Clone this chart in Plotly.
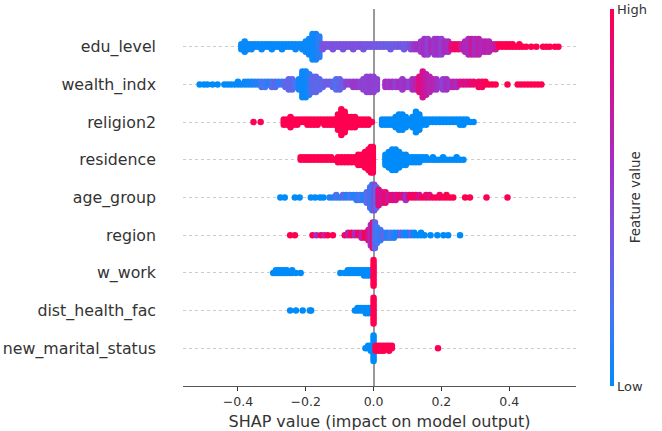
import math
import plotly.graph_objects as go

# Feature names, bottom row first
features = ["new_marital_status", "dist_health_fac", "w_work", "region", "age_group",
            "residence", "religion2", "wealth_indx", "edu_level"]

# ---- SHAP value bins (x), number of points per bin (n), feature value colour (c) ----
edu_x = [-0.39, -0.38, -0.37, -0.36, -0.35, -0.34, -0.33, -0.32, -0.31, -0.30,
         -0.29, -0.28, -0.27, -0.26, -0.25, -0.24, -0.23, -0.22, -0.21, -0.20,
         -0.19, -0.18, -0.17, -0.16, -0.15, -0.14, -0.13, -0.12, -0.11, -0.10,
         -0.09, -0.08, -0.07, -0.06, -0.05, -0.04, -0.03, -0.02, -0.01, 0.00,
         0.01, 0.02, 0.03, 0.04, 0.05, 0.06, 0.07, 0.08, 0.09, 0.10,
         0.11, 0.12, 0.13, 0.14, 0.15, 0.16, 0.17, 0.18, 0.19, 0.20,
         0.21, 0.22, 0.23, 0.24, 0.25, 0.26, 0.27, 0.28, 0.29, 0.30,
         0.31, 0.32, 0.33, 0.34, 0.35, 0.36, 0.37, 0.38, 0.39, 0.40,
         0.41, 0.42, 0.43, 0.44, 0.45, 0.465, 0.48, 0.50, 0.51, 0.52,
         0.535, 0.545]
edu_n = [3, 5, 3, 3, 2, 2, 3, 2, 2, 3,
         2, 2, 3, 2, 2, 2, 3, 2, 3, 5,
         7, 11, 11, 9, 3, 2, 2, 3, 2, 2,
         3, 2, 2, 3, 2, 2, 3, 2, 2, 2,
         2, 2, 2, 2, 3, 2, 2, 2, 3, 2,
         3, 3, 3, 5, 7, 7, 5, 7, 7, 7,
         5, 5, 3, 3, 3, 3, 5, 7, 7, 7,
         7, 5, 5, 5, 3, 3, 2, 2, 2, 2,
         2, 1, 2, 1, 1, 1, 1, 1, 1, 1,
         1, 1]
edu_c = [0.02, 0.02, 0.02, 0.02, 0.02, 0.02, 0.02, 0.02, 0.02, 0.02,
         0.02, 0.02, 0.02, 0.02, 0.02, 0.02, 0.03, 0.03, 0.03, 0.03,
         0.03, 0.03, 0.05, 0.12, 0.40, 0.42, 0.40, 0.42, 0.40, 0.42,
         0.40, 0.42, 0.40, 0.42, 0.40, 0.42, 0.40, 0.38, 0.40, 0.38,
         0.38, 0.36, 0.38, 0.35, 0.36, 0.35, 0.36, 0.38, 0.36, 0.38,
         0.45, 0.55, 0.60, 0.55, 0.60, 0.50, 0.62, 0.55, 0.60, 0.50,
         0.62, 0.60, 0.85, 0.95, 0.95, 0.70, 0.65, 0.62, 0.75, 0.60,
         0.70, 0.62, 0.72, 0.65, 0.70, 0.75, 1, 1, 1, 1,
         1, 1, 1, 1, 1, 1, 1, 1, 1, 1,
         1, 1]

wealth_x = [-0.513, -0.50, -0.49, -0.475, -0.46, -0.44, -0.43, -0.42, -0.41, -0.40,
            -0.39, -0.38, -0.37, -0.36, -0.35, -0.34, -0.33, -0.32, -0.31, -0.30,
            -0.29, -0.28, -0.27, -0.26, -0.25, -0.24, -0.23, -0.22, -0.21, -0.20,
            -0.19, -0.18, -0.17, -0.16, -0.15, -0.14, -0.13, -0.12, -0.11, -0.10,
            -0.09, -0.08, -0.07, -0.06, -0.05, -0.04, -0.03, -0.02, -0.01, 0.00,
            0.01, 0.035, 0.045, 0.055, 0.065, 0.075, 0.085, 0.095, 0.105, 0.115,
            0.125, 0.135, 0.145, 0.155, 0.165, 0.175, 0.185, 0.195, 0.205, 0.215,
            0.225, 0.235, 0.245, 0.255, 0.265, 0.275, 0.285, 0.295, 0.31, 0.32,
            0.33, 0.34, 0.35, 0.36, 0.395, 0.425, 0.435, 0.445, 0.455, 0.465,
            0.475, 0.485, 0.495]
wealth_n = [1, 1, 1, 1, 1, 1, 1, 1, 1, 2,
            1, 2, 2, 2, 2, 2, 3, 3, 2, 3,
            3, 2, 2, 3, 5, 5, 3, 5, 11, 11,
            9, 7, 7, 5, 3, 2, 2, 3, 5, 5,
            3, 2, 2, 3, 3, 3, 5, 7, 7, 7,
            5, 3, 3, 3, 3, 3, 5, 3, 3, 5,
            5, 7, 11, 9, 7, 5, 5, 3, 5, 5,
            3, 3, 3, 2, 2, 2, 2, 2, 3, 3,
            2, 1, 1, 1, 1, 1, 1, 1, 1, 1,
            1, 1, 1]
wealth_c = [0, 0, 0, 0, 0, 0, 0, 0, 0.02, 0.02,
            0.02, 0.03, 0.05, 0.05, 0.1, 0.1, 0.2, 0.2, 0.1, 0.25,
            0.28, 0.15, 0.15, 0.3, 0.3, 0.3, 0.2, 0.05, 0.03, 0.03,
            0.1, 0.3, 0.3, 0.28, 0.3, 0.35, 0.35, 0.3, 0.25, 0.3,
            0.35, 0.5, 0.5, 0.55, 0.55, 0.5, 0.5, 0.5, 0.52, 0.5,
            0.5, 0.6, 0.55, 0.6, 0.5, 0.6, 0.55, 0.6, 0.5, 0.6,
            0.7, 0.85, 0.8, 0.75, 0.65, 0.7, 0.6, 0.55, 0.5, 0.6,
            0.55, 0.7, 0.6, 0.8, 0.85, 0.8, 0.9, 0.9, 0.95, 0.95,
            1, 1, 1, 1, 1, 1, 1, 1, 1, 1,
            1, 1, 1]

religion_x = [-0.354, -0.333, -0.265, -0.255, -0.245, -0.235, -0.225, -0.215, -0.205, -0.195,
              -0.185, -0.175, -0.165, -0.155, -0.145, -0.135, -0.125, -0.115, -0.105, -0.095,
              -0.085, -0.075, -0.065, -0.055, -0.045, -0.035, -0.025, -0.015, -0.005, 0.025,
              0.035, 0.045, 0.055, 0.065, 0.075, 0.085, 0.095, 0.105, 0.115, 0.125,
              0.135, 0.145, 0.155, 0.165, 0.175, 0.185, 0.195, 0.205, 0.215, 0.225,
              0.235, 0.245, 0.255, 0.265, 0.275, 0.285, 0.295]
religion_n = [1, 1, 3, 3, 5, 3, 3, 2, 2, 3,
              3, 3, 3, 2, 3, 3, 3, 3, 7, 11,
              9, 5, 5, 5, 3, 3, 3, 3, 1, 3,
              3, 3, 3, 5, 7, 7, 5, 3, 5, 9,
              7, 3, 3, 2, 2, 2, 2, 2, 2, 2,
              2, 2, 3, 3, 2, 1, 1]
religion_c = [1] * 29 + [0] * 28

residence_x = [-0.215, -0.205, -0.195, -0.185, -0.175, -0.165, -0.155, -0.145, -0.135, -0.125,
               -0.115, -0.105, -0.095, -0.085, -0.075, -0.065, -0.055, -0.045, -0.035, -0.025,
               -0.015, -0.008, -0.002, 0.035, 0.045, 0.055, 0.065, 0.075, 0.085, 0.095,
               0.105, 0.115, 0.125, 0.135, 0.145, 0.155, 0.165, 0.175, 0.185, 0.195,
               0.205, 0.215, 0.225, 0.235, 0.245, 0.255, 0.265]
residence_n = [2, 2, 2, 2, 2, 2, 2, 2, 2, 2,
               1, 3, 3, 3, 3, 3, 3, 5, 5, 7,
               9, 11, 11, 5, 7, 9, 9, 7, 5, 5,
               3, 3, 3, 3, 2, 2, 1, 2, 1, 1,
               2, 1, 1, 1, 2, 1, 1]
residence_c = [1] * 23 + [0] * 24

age_x = [-0.275, -0.262, -0.232, -0.218, -0.185, -0.172, -0.158, -0.148, -0.13, -0.12,
         -0.11, -0.10, -0.09, -0.08, -0.07, -0.06, -0.05, -0.04, -0.03, -0.02,
         -0.01, -0.004, 0.002, 0.008, 0.015, 0.025, 0.035, 0.045, 0.055, 0.065,
         0.075, 0.085, 0.095, 0.105, 0.115, 0.125, 0.135, 0.145, 0.155, 0.165,
         0.175, 0.185, 0.195, 0.205, 0.215, 0.225, 0.235, 0.27, 0.284, 0.333,
         0.395]
age_n = [1, 1, 1, 1, 1, 1, 1, 1, 1, 1,
         2, 1, 2, 2, 2, 2, 3, 3, 3, 5,
         9, 11, 11, 9, 7, 5, 5, 3, 3, 3,
         2, 2, 3, 2, 2, 2, 2, 1, 2, 2,
         1, 1, 2, 1, 2, 1, 1, 1, 1, 1,
         1]
age_c = [0, 0, 0, 0, 0, 0, 0, 0, 0.1, 0.05,
         0.25, 0.1, 0.3, 0.1, 0.2, 0.1, 0.15, 0.2, 0.1, 0.25,
         0.3, 0.1, 0.45, 0.3, 0.85, 0.8, 0.9, 0.75, 0.9, 0.8,
         0.9, 0.85, 0.6, 0.9, 0.95, 0.95, 0.8, 1, 0.95, 0.85,
         1, 1, 0.95, 1, 1, 1, 1, 1, 1, 1,
         1]

region_x = [-0.246, -0.232, -0.18, -0.168, -0.155, -0.145, -0.135, -0.12, -0.085, -0.075,
            -0.065, -0.055, -0.045, -0.035, -0.025, -0.015, -0.008, -0.002, 0.004, 0.01,
            0.02, 0.03, 0.04, 0.05, 0.06, 0.07, 0.08, 0.09, 0.10, 0.11,
            0.12, 0.13, 0.14, 0.15, 0.168, 0.188, 0.206, 0.22, 0.255]
region_n = [1, 1, 1, 1, 1, 1, 1, 1, 1, 2,
            2, 2, 2, 3, 3, 5, 9, 11, 11, 7,
            5, 3, 3, 3, 3, 2, 2, 2, 2, 2,
            2, 1, 2, 1, 1, 1, 1, 1, 1]
region_c = [1, 1, 1, 0.6, 1, 0.7, 1, 1, 0.95, 0.7,
            1, 0.6, 0.95, 0.7, 1, 0.8, 0.6, 0.9, 0.3, 0.2,
            0.15, 0.3, 0.1, 0.2, 0.1, 0.05, 0.35, 0.05, 0, 0.3,
            0, 0, 0, 0, 0, 0, 0, 0, 0]

work_x = [-0.296, -0.288, -0.28, -0.272, -0.264, -0.256, -0.248, -0.24, -0.229, -0.215,
          -0.098, -0.085, -0.076, -0.068, -0.06, -0.052, -0.044, -0.036, -0.028, -0.02,
          -0.012, -0.006, 0.0]
work_n = [1, 2, 2, 2, 2, 2, 1, 2, 1, 1,
          1, 1, 2, 2, 2, 2, 2, 2, 3, 3,
          3, 2, 11]
work_c = [0] * 22 + [1]

dist_x = [-0.246, -0.229, -0.209, -0.188, -0.184, -0.055, -0.047, -0.039, -0.031, -0.023,
          -0.015, -0.008, 0.0]
dist_n = [1, 1, 1, 1, 1, 1, 2, 2, 2, 3,
          3, 2, 11]
dist_c = [0] * 12 + [1]

marital_x = [-0.024, -0.016, -0.008, 0.0, 0.006, 0.014, 0.022, 0.03, 0.038, 0.046, 0.054, 0.19]
marital_n = [1, 2, 3, 11, 3, 3, 3, 3, 2, 3, 2, 1]
marital_c = [0, 0, 0, 0, 1, 1, 1, 1, 1, 1, 1, 1]

x_ticks = [-0.4, -0.2, 0.0, 0.2, 0.4]
x_tick_labels = ["\u22120.4", "\u22120.2", "0.0", "0.2", "0.4"]

rows = [(marital_x, marital_n, marital_c), (dist_x, dist_n, dist_c), (work_x, work_n, work_c),
        (region_x, region_n, region_c), (age_x, age_n, age_c), (residence_x, residence_n, residence_c),
        (religion_x, religion_n, religion_c), (wealth_x, wealth_n, wealth_c), (edu_x, edu_n, edu_c)]

# ---- beeswarm layout (SHAP-style layering inside each bin) ----
xs, ys, cs = [], [], []
for row, (bx, bn, bc) in enumerate(rows):
    maxoff = max(math.ceil((n - 1) / 2) for n in bn)
    step = 0.34 / maxoff
    for x, n, c in zip(bx, bn, bc):
        for layer in range(n):
            off = math.ceil(layer / 2) * (1 if layer % 2 else -1)
            xs.append(x)
            ys.append(row + off * step)
            cs.append(c)

red_blue = [[0.0, "rgb(0,139,251)"], [0.2, "rgb(70,118,243)"], [0.4, "rgb(121,84,224)"],
            [0.5, "rgb(142,66,212)"], [0.6, "rgb(166,45,194)"], [0.8, "rgb(211,18,145)"],
            [1.0, "rgb(255,0,81)"]]

FONT = "DejaVu Sans"
TXT = "#333333"

fig = go.Figure()
fig.add_trace(go.Scatter(
    x=xs, y=ys, mode="markers",
    marker=dict(size=6.5, color=cs, colorscale=red_blue, cmin=0, cmax=1, line=dict(width=0),
                showscale=True,
                colorbar=dict(x=1.06, xanchor="left", y=0.5, yanchor="middle", len=1,
                              lenmode="fraction", thickness=4, ypad=0, outlinewidth=0,
                              tickvals=[0, 1], ticktext=["Low", "High"], ticks="",
                              tickfont=dict(family=FONT, size=13, color=TXT))),
    hoverinfo="skip", showlegend=False))

fig.add_annotation(text="Feature value", textangle=-90, xref="paper", yref="paper",
                   x=1.175, y=0.5, showarrow=False,
                   font=dict(family=FONT, size=13.5, color=TXT))

fig.update_layout(
    width=662, height=431,
    margin=dict(l=183, r=79, t=9, b=45),
    paper_bgcolor="white", plot_bgcolor="white",
    font=dict(family=FONT, color=TXT),
    xaxis=dict(range=[-0.562, 0.597], tickvals=x_ticks, ticktext=x_tick_labels,
               showgrid=False, zeroline=True, zerolinecolor="#999999", zerolinewidth=1.5,
               showline=True, linecolor="#555555", linewidth=1.3,
               ticks="outside", ticklen=4, tickcolor="#333333",
               tickfont=dict(family=FONT, size=12.5, color=TXT),
               title=dict(text="SHAP value (impact on model output)", standoff=7,
                          font=dict(family=FONT, size=16, color=TXT)),
               automargin=False),
    yaxis=dict(range=[-1, 9], tickvals=list(range(len(features))), ticktext=features,
               showgrid=True, gridcolor="#cccccc", gridwidth=1, griddash="dot",
               zeroline=False, showline=False, ticks="", ticklabelstandoff=26,
               tickfont=dict(family=FONT, size=15.8, color=TXT), automargin=False),
)

fig.write_html("out.html")
